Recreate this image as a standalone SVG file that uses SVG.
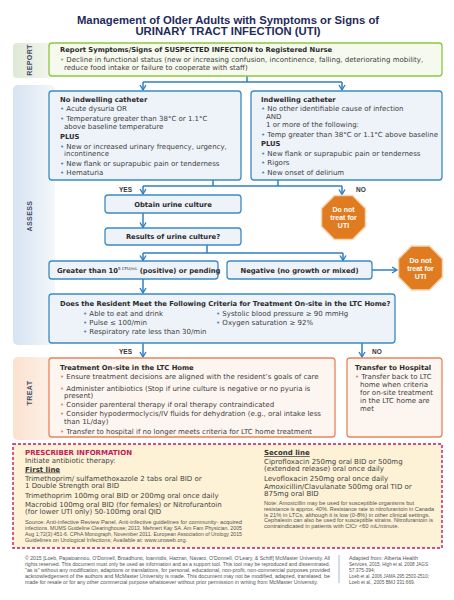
<svg xmlns="http://www.w3.org/2000/svg" width="454" height="600" viewBox="0 0 454 600">
<defs>
<marker id="arr" markerWidth="8" markerHeight="8" refX="6" refY="4" orient="auto" markerUnits="userSpaceOnUse">
<path d="M1,1 L6,4 L1,7" fill="none" stroke="#2f7fc1" stroke-width="1.4"/>
</marker>
<linearGradient id="gRep" x1="0" y1="0" x2="1" y2="0"><stop offset="0" stop-color="#dfe8d6"/><stop offset="1" stop-color="#f4f7f0"/></linearGradient>
<linearGradient id="gAss" x1="0" y1="0" x2="1" y2="0"><stop offset="0" stop-color="#d6e3f1"/><stop offset="1" stop-color="#f3f7fb"/></linearGradient>
<linearGradient id="gTr" x1="0" y1="0" x2="1" y2="0"><stop offset="0" stop-color="#fbe1cf"/><stop offset="1" stop-color="#fdf2ea"/></linearGradient>
<style>
text{font-family:"DejaVu Sans","Liberation Sans",Arial,sans-serif;fill:#404040;font-size:7px}
.b{font-weight:bold;fill:#2b2b2b;font-size:6.8px}
.title{font-family:"Liberation Sans",Arial,sans-serif;font-size:11.3px;font-weight:bold;fill:#1f2b5c;text-anchor:middle}
.side{font-family:"Liberation Sans",Arial,sans-serif;font-size:7px;font-weight:bold;fill:#3d4a66;text-anchor:middle;letter-spacing:0.4px}
.c{text-anchor:middle}
.bl{fill:#3b8ac4}
.bg{fill:#7cb342}
.bo{fill:#e9845a}
.blue{fill:#eef3f9;stroke:#3b8ac4;stroke-width:1.3}
.green{fill:#f5f9ee;stroke:#8dc63f;stroke-width:1.3}
.orange{fill:#fdf6f0;stroke:#e9845a;stroke-width:1.3}
.oct{fill:#e07b20;stroke:#f4d7b8;stroke-width:1.5}
.octt{font-family:"Liberation Sans",Arial,sans-serif;fill:#ffffff;font-weight:bold;font-size:7px;text-anchor:middle}
.lbl{font-family:"Liberation Sans",Arial,sans-serif;font-size:6.5px;font-weight:bold;fill:#333}
.conn{fill:none;stroke:#2f7fc1;stroke-width:1.5}
.pr{font-size:7px;fill:#444}
.prb{font-size:7px;fill:#333;font-weight:bold;text-decoration:underline}
.prh{font-size:7px;fill:#c2185b;font-weight:bold}
.small{font-family:"Liberation Sans",Arial,sans-serif;font-size:5.4px;fill:#555}
.foot{font-family:"Liberation Sans",Arial,sans-serif;font-size:5.4px;fill:#555}
</style>
</defs>
<rect x="0" y="0" width="454" height="600" fill="#ffffff"/>

<g id="title">
<text class="title" x="228" y="23.5">Management of Older Adults with Symptoms or Signs of</text>
<text class="title" x="228" y="35">URINARY TRACT INFECTION (UTI)</text>
</g>

<g id="bands">
<rect x="13" y="43" width="42" height="35" rx="4" fill="url(#gRep)"/>
<rect x="13" y="85" width="42" height="260" rx="5" fill="url(#gAss)"/>
<rect x="13" y="357" width="42" height="83" rx="5" fill="url(#gTr)"/>
<text class="side" transform="translate(31.5,60) rotate(-90)">REPORT</text>
<text class="side" transform="translate(31.5,216) rotate(-90)">ASSESS</text>
<text class="side" transform="translate(31.5,393) rotate(-90)">TREAT</text>
</g>

<g id="connectors">
<path class="conn" d="M247,76 V82 M143,82 H342"/>
<path class="conn" d="M143,82 V90" marker-end="url(#arr)"/>
<path class="conn" d="M342,82 V90" marker-end="url(#arr)"/>
<path class="conn" d="M213,180 V186 M278,180 V186 M143,186 H342"/>
<path class="conn" d="M143,186 V194" marker-end="url(#arr)"/>
<path class="conn" d="M342,186 V194.5" marker-end="url(#arr)"/>
<path class="conn" d="M143,213 V227.5" marker-end="url(#arr)"/>
<path class="conn" d="M207,245 V253 M143,253 H343"/>
<path class="conn" d="M143,253 V260.5" marker-end="url(#arr)"/>
<path class="conn" d="M343,253 V260.5" marker-end="url(#arr)"/>
<path class="conn" d="M372,270 H397" marker-end="url(#arr)"/>
<path class="conn" d="M143,279 V293" marker-end="url(#arr)"/>
<path class="conn" d="M143,343 V357" marker-end="url(#arr)"/>
<path class="conn" d="M362,343 V357" marker-end="url(#arr)"/>
<text class="lbl" x="119" y="191.5">YES</text>
<text class="lbl" x="356" y="191.5">NO</text>
<text class="lbl" x="119" y="353.5">YES</text>
<text class="lbl" x="372" y="353.5">NO</text>
</g>

<g id="report">
<rect class="green" x="49" y="43" width="393" height="33" rx="3"/>
<text class="b" x="60" y="52">Report Symptoms/Signs of SUSPECTED INFECTION to Registered Nurse</text>
<text x="60" y="61.5"><tspan class="bg">•</tspan> Decline in functional status (new or increasing confusion, incontinence, falling, deteriorating mobility,</text>
<text x="64" y="69.5">reduce food intake or failure to cooperate with staff)</text>
</g>

<g id="no-catheter">
<rect class="blue" x="49" y="91" width="192" height="89" rx="3"/>
<text class="b" x="60" y="102">No indwelling catheter</text>
<text x="60" y="110.5"><tspan class="bl">•</tspan> Acute dysuria OR</text>
<text x="60" y="120.5"><tspan class="bl">•</tspan> Temperature greater than 38°C or 1.1°C</text>
<text x="64" y="128.5">above baseline temperature</text>
<text class="b" x="60" y="138.5">PLUS</text>
<text x="60" y="148.5"><tspan class="bl">•</tspan> New or increased urinary frequency, urgency,</text>
<text x="64" y="156">incontinence</text>
<text x="60" y="165.5"><tspan class="bl">•</tspan> New flank or suprapubic pain or tenderness</text>
<text x="60" y="174.5"><tspan class="bl">•</tspan> Hematuria</text>
</g>

<g id="catheter">
<rect class="blue" x="251" y="91" width="191" height="89" rx="3"/>
<text class="b" x="261" y="101.5">Indwelling catheter</text>
<text x="261" y="110.5"><tspan class="bl">•</tspan> No other identifiable cause of infection</text>
<text x="266" y="118.5">AND</text>
<text x="266" y="126.5">1 or more of the following:</text>
<text x="261" y="136.5"><tspan class="bl">•</tspan> Temp greater than 38°C or 1.1°C above baseline</text>
<text class="b" x="261" y="145.5">PLUS</text>
<text x="261" y="155.5"><tspan class="bl">•</tspan> New flank or suprapubic pain or tenderness</text>
<text x="261" y="164.5"><tspan class="bl">•</tspan> Rigors</text>
<text x="261" y="174.5"><tspan class="bl">•</tspan> New onset of delirium</text>
</g>

<g id="obtain">
<rect class="blue" x="105" y="195" width="136" height="18" rx="3"/>
<text class="b c" x="173" y="206.5">Obtain urine culture</text>
</g>

<g id="results">
<rect class="blue" x="105" y="228" width="136" height="17" rx="3"/>
<text class="b c" x="173" y="239">Results of urine culture?</text>
</g>

<g id="stop1">
<polygon class="oct" points="334.4,195.5 352.6,195.5 365.5,208.4 365.5,226.6 352.6,239.5 334.4,239.5 321.5,226.6 321.5,208.4"/>
<text class="octt" x="343.5" y="212">Do not</text>
<text class="octt" x="343.5" y="220">treat for</text>
<text class="octt" x="343.5" y="228">UTI</text>
</g>

<g id="positive">
<rect class="blue" x="49" y="261" width="169" height="18" rx="3"/>
<text class="b" x="57" y="272.5">Greater than 10<tspan font-size="4" dy="-2.6" font-weight="normal">5 CFU/mL</tspan><tspan dy="2.6"> (positive) or pending</tspan></text>
</g>

<g id="negative">
<rect class="blue" x="227" y="261" width="145" height="18" rx="3"/>
<text class="b c" x="299.5" y="272.5">Negative (no growth or mixed)</text>
</g>

<g id="stop2">
<polygon class="oct" points="411.4,246 429.6,246 442.5,258.9 442.5,277.1 429.6,290 411.4,290 398.5,277.1 398.5,258.9"/>
<text class="octt" x="420.5" y="263">Do not</text>
<text class="octt" x="420.5" y="271">treat for</text>
<text class="octt" x="420.5" y="279">UTI</text>
</g>

<g id="criteria">
<rect class="blue" x="49" y="294" width="346" height="49" rx="3"/>
<text class="b" x="60" y="305.5">Does the Resident Meet the Following Criteria for Treatment On-site in the LTC Home?</text>
<text x="83" y="315.5"><tspan class="bl">•</tspan> Able to eat and drink</text>
<text x="216" y="315.5"><tspan class="bl">•</tspan> Systolic blood pressure ≥ 90 mmHg</text>
<text x="83" y="324.5"><tspan class="bl">•</tspan> Pulse ≤ 100/min</text>
<text x="216" y="324.5"><tspan class="bl">•</tspan> Oxygen saturation ≥ 92%</text>
<text x="83" y="334"><tspan class="bl">•</tspan> Respiratory rate less than 30/min</text>
</g>

<g id="treat">
<rect class="orange" x="49" y="358" width="286" height="79" rx="3"/>
<text class="b" x="60" y="369.5">Treatment On-site in the LTC Home</text>
<text x="60" y="378.5"><tspan class="bo">•</tspan> Ensure treatment decisions are aligned with the resident’s goals of care</text>
<text x="60" y="390.5"><tspan class="bo">•</tspan> Administer antibiotics (Stop if urine culture is negative or no pyuria is</text>
<text x="64" y="397.5">present)</text>
<text x="60" y="406.5"><tspan class="bo">•</tspan> Consider parenteral therapy if oral therapy contraindicated</text>
<text x="60" y="416"><tspan class="bo">•</tspan> Consider hypodermoclycis/IV fluids for dehydration (e.g., oral intake less</text>
<text x="64" y="424">than 1L/day)</text>
<text x="60" y="433.5"><tspan class="bo">•</tspan> Transfer to hospital if no longer meets criteria for LTC home treatment</text>
</g>

<g id="transfer">
<rect class="orange" x="347" y="358" width="95" height="79" rx="3"/>
<text class="b" x="355" y="369.5">Transfer to Hospital</text>
<text x="355" y="378.5"><tspan class="bo">•</tspan> Transfer back to LTC</text>
<text x="360" y="386.5">home when criteria</text>
<text x="360" y="394.5">for on-site treatment</text>
<text x="360" y="403">in the LTC home are</text>
<text x="360" y="411">met</text>
</g>

<g id="prescriber">
<rect x="13" y="444" width="429" height="104" fill="#fdf1d6" stroke="#c2186b" stroke-width="1.4" stroke-dasharray="3,2"/>
<text class="prh" x="25" y="455">PRESCRIBER INFORMATION</text>
<text class="pr" x="25" y="462.5">Initiate antibiotic therapy:</text>
<text class="prb" x="25" y="471.5">First line</text>
<text class="pr" x="25" y="480.5">Trimethoprim/ sulfamethoxazole 2 tabs oral BID or</text>
<text class="pr" x="25" y="488">1 Double Strength oral BID</text>
<text class="pr" x="25" y="497.5">Trimethoprim 100mg oral BID or 200mg oral once daily</text>
<text class="pr" x="25" y="506.5">Macrobid 100mg oral BID (for females) or Nitrofurantoin</text>
<text class="pr" x="25" y="514">(for lower UTI only) 50-100mg oral QID</text>
<text class="small" x="25" y="523.5" textLength="217" lengthAdjust="spacingAndGlyphs">Source: Anti-infective Review Panel.  Anti-infective guidelines for community- acquired</text>
<text class="small" x="25" y="529.5" textLength="217" lengthAdjust="spacingAndGlyphs">infections.  MUMS Guideline Clearinghouse; 2013. Mehnert Kay SA. Am Fam Physician. 2005</text>
<text class="small" x="25" y="535.5" textLength="217" lengthAdjust="spacingAndGlyphs">Aug 1;72(3):451-6. CPhA Monograph, November 2011. European Association of Urology 2015</text>
<text class="small" x="25" y="542" textLength="162" lengthAdjust="spacingAndGlyphs">Guidelines on Urological Infections; Available at: www.uroweb.org.</text>
<text class="prb" x="264" y="455">Second line</text>
<text class="pr" x="264" y="463.5">Ciprofloxacin 250mg oral BID or 500mg</text>
<text class="pr" x="264" y="471">(extended release) oral once daily</text>
<text class="pr" x="264" y="480.5">Levofloxacin 250mg oral once daily</text>
<text class="pr" x="264" y="488.5">Amoxicillin/Clavulanate 500mg oral TID or</text>
<text class="pr" x="264" y="496">875mg oral BID</text>
<text class="small" x="264" y="504.5" textLength="150" lengthAdjust="spacingAndGlyphs">Note: Amoxicillin may be used for susceptible organisms but</text>
<text class="small" x="264" y="510.5" textLength="170" lengthAdjust="spacingAndGlyphs">resistance is approx. 40%. Resistance rate to nitrofurantoin in Canada</text>
<text class="small" x="264" y="516.5" textLength="166" lengthAdjust="spacingAndGlyphs">is 21% in LTCs, although it is low (0-8%) in other clinical settings.</text>
<text class="small" x="264" y="522" textLength="169" lengthAdjust="spacingAndGlyphs">Cephalexin can also be used for susceptible strains.  Nitrofurantoin is</text>
<text class="small" x="264" y="527.5" textLength="135" lengthAdjust="spacingAndGlyphs">contraindicated in patients with ClCr &lt;60 mL/minute.</text>
</g>

<g id="footer">
<text class="foot" x="25" y="560" textLength="305" lengthAdjust="spacingAndGlyphs">© 2015 [Loeb, Papaioannou, O'Donnell, Broadhurst, Ioannidis, Hazzan, Navaro, O'Donnell, O'Leary, &amp; Schiff] McMaster University. All</text>
<text class="foot" x="25" y="566" textLength="305" lengthAdjust="spacingAndGlyphs">rights reserved. This document must only be used as information and as a support tool.  This tool may be reproduced and disseminated,</text>
<text class="foot" x="25" y="572" textLength="305" lengthAdjust="spacingAndGlyphs">"as is" without any modification, adaptions or translations, for personal, educational, non-profit, non-commercial  purposes provided</text>
<text class="foot" x="25" y="577.5" textLength="305" lengthAdjust="spacingAndGlyphs">acknowledgement of the authors and McMaster University is made.  This document may not be modified, adapted, translated, be</text>
<text class="foot" x="25" y="583.5" textLength="293" lengthAdjust="spacingAndGlyphs">made for resale or for any other commercial purpose whatsoever without prior permission in writing from McMaster University.</text>
<line x1="339" y1="555" x2="339" y2="583" stroke="#aab8cc" stroke-width="1"/>
<text class="foot" x="349" y="560" textLength="69" lengthAdjust="spacingAndGlyphs">Adapted from: Alberta Health</text>
<text class="foot" x="349" y="566" textLength="79" lengthAdjust="spacingAndGlyphs">Services, 2015; High et al. 2008 JAGS</text>
<text class="foot" x="349" y="572" textLength="26" lengthAdjust="spacingAndGlyphs">57:375-394;</text>
<text class="foot" x="349" y="577.5" textLength="80" lengthAdjust="spacingAndGlyphs">Loeb et al. 2006 JAMA 295:2503-2510;</text>
<text class="foot" x="349" y="583.5" textLength="66" lengthAdjust="spacingAndGlyphs">Loeb et al., 2005 BMJ 331:669.</text>
</g>
</svg>
